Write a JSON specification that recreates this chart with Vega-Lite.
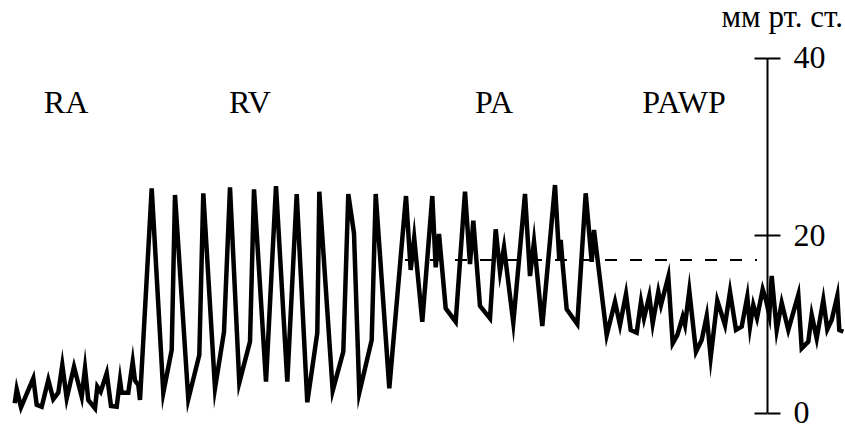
{
  "$schema": "https://vega.github.io/schema/vega-lite/v6.json",
  "width": 845,
  "height": 428,
  "autosize": {"type": "none"},
  "padding": 0,
  "background": "white",
  "config": {"view": {"stroke": null}, "font": "Times New Roman, Times, Liberation Serif, serif"},
  "datasets": {
    "trace": [
      {"t": 14.7, "p": 1.04}, {"t": 16.7, "p": 2.61}, {"t": 21, "p": 0.59}, {"t": 33.3, "p": 3.85},
      {"t": 36.7, "p": 0.85}, {"t": 41.7, "p": 0.65}, {"t": 48.3, "p": 3.66}, {"t": 53.3, "p": 1.49},
      {"t": 58.3, "p": 2.23}, {"t": 62.3, "p": 5.35}, {"t": 66.7, "p": 1.6}, {"t": 74, "p": 5.16},
      {"t": 81.7, "p": 1.78}, {"t": 85, "p": 4.98}, {"t": 88.3, "p": 1.41}, {"t": 95, "p": 0.47},
      {"t": 97.3, "p": 2.91}, {"t": 100.7, "p": 2.34}, {"t": 106.7, "p": 4.42}, {"t": 111, "p": 0.73},
      {"t": 116.7, "p": 0.65}, {"t": 120, "p": 3.66}, {"t": 121.7, "p": 2.23}, {"t": 128.3, "p": 2.23},
      {"t": 132.7, "p": 5.72}, {"t": 135, "p": 3.58}, {"t": 138.3, "p": 3.1}, {"t": 140, "p": 1.41},
      {"t": 151.7, "p": 25.26}, {"t": 163.3, "p": 2.23}, {"t": 171.7, "p": 7.04}, {"t": 175, "p": 24.51},
      {"t": 188.3, "p": 1.49}, {"t": 199.3, "p": 6.48}, {"t": 203.3, "p": 24.7}, {"t": 215, "p": 2.73},
      {"t": 224, "p": 9.1}, {"t": 230, "p": 25.37}, {"t": 239.3, "p": 3.36}, {"t": 250, "p": 7.98},
      {"t": 254, "p": 25.15}, {"t": 266, "p": 3.47}, {"t": 276, "p": 25.52}, {"t": 287.3, "p": 3.47},
      {"t": 296.7, "p": 24.62}, {"t": 307.3, "p": 1.15}, {"t": 317.3, "p": 8.99}, {"t": 319.3, "p": 24.88},
      {"t": 332.7, "p": 2.46}, {"t": 343.3, "p": 6.85}, {"t": 348.3, "p": 24.62}, {"t": 354, "p": 20.19},
      {"t": 359.3, "p": 2.23}, {"t": 371.7, "p": 8.17}, {"t": 375.7, "p": 24.62}, {"t": 389.3, "p": 2.73},
      {"t": 406, "p": 24.39}, {"t": 410.7, "p": 16.06}, {"t": 414.2, "p": 19.66}, {"t": 422.3, "p": 10.23},
      {"t": 432.3, "p": 24.39}, {"t": 435.7, "p": 16.36}, {"t": 439, "p": 20.11}, {"t": 445.7, "p": 11.74},
      {"t": 455.7, "p": 10.23}, {"t": 465, "p": 24.88}, {"t": 470, "p": 16.73}, {"t": 473.3, "p": 21.61},
      {"t": 480, "p": 12.0}, {"t": 490, "p": 10.61}, {"t": 495.7, "p": 20.64}, {"t": 500, "p": 15.86},
      {"t": 504, "p": 18.61}, {"t": 513.3, "p": 10.12}, {"t": 525, "p": 24.62}, {"t": 530, "p": 15.38},
      {"t": 534, "p": 19.25}, {"t": 542.3, "p": 9.75}, {"t": 555, "p": 25.63}, {"t": 559.3, "p": 17.18},
      {"t": 560.7, "p": 19.44}, {"t": 562.7, "p": 16.62}, {"t": 566.7, "p": 11.63}, {"t": 577.3, "p": 9.97},
      {"t": 585.7, "p": 24.7}, {"t": 591.7, "p": 16.99}, {"t": 594, "p": 20.56}, {"t": 606.7, "p": 8.73},
      {"t": 615, "p": 12.48}, {"t": 620, "p": 9.86}, {"t": 626, "p": 13.35}, {"t": 630.7, "p": 9.3},
      {"t": 636.7, "p": 8.99}, {"t": 641, "p": 12.48}, {"t": 644, "p": 10.61}, {"t": 649.3, "p": 13.13},
      {"t": 652.7, "p": 10.05}, {"t": 658.3, "p": 13.61}, {"t": 661, "p": 12.11}, {"t": 668.3, "p": 15.3},
      {"t": 672.7, "p": 7.8}, {"t": 677.3, "p": 8.73}, {"t": 682.7, "p": 10.79}, {"t": 685, "p": 9.86},
      {"t": 689.3, "p": 13.72}, {"t": 696, "p": 6.85}, {"t": 701.7, "p": 8.17}, {"t": 706.7, "p": 10.87},
      {"t": 710.7, "p": 6.22}, {"t": 717.3, "p": 12.6}, {"t": 725, "p": 9.86}, {"t": 730, "p": 13.61},
      {"t": 736, "p": 9.3}, {"t": 741.7, "p": 9.67}, {"t": 747.3, "p": 13.05}, {"t": 750, "p": 9.67},
      {"t": 753.3, "p": 12.11}, {"t": 757, "p": 10.65}, {"t": 762.7, "p": 13.88}, {"t": 766, "p": 12.68},
      {"t": 769.3, "p": 10.99}, {"t": 771.7, "p": 15.38}, {"t": 776.7, "p": 9.3}, {"t": 781.7, "p": 12.37},
      {"t": 788.3, "p": 9.3}, {"t": 798.3, "p": 13.24}, {"t": 801.7, "p": 7.23}, {"t": 808.3, "p": 7.98},
      {"t": 811.7, "p": 10.99}, {"t": 816.7, "p": 8.36}, {"t": 823.3, "p": 12.68}, {"t": 827.3, "p": 9.37},
      {"t": 831.7, "p": 10.42}, {"t": 837.3, "p": 13.13}, {"t": 839.3, "p": 9.3}, {"t": 843.3, "p": 9.1}
    ],
    "wedge": [{"t": 405, "t2": 757, "p": 17.18}],
    "regions": [
      {"t": 66, "p": 33.75, "label": "RA"},
      {"t": 250, "p": 33.75, "label": "RV"},
      {"t": 494, "p": 33.75, "label": "PA"},
      {"t": 684, "p": 33.75, "label": "PAWP"}
    ],
    "unit": [{"t": 843, "p": 43.44, "label": "мм рт. ст."}]
  },
  "resolve": {"axis": {"y": "independent"}},
  "layer": [
    {
      "data": {"name": "wedge"},
      "mark": {"type": "rule", "stroke": "black", "strokeWidth": 2, "strokeDash": [12, 13]},
      "encoding": {
        "x": {"field": "t", "type": "quantitative", "scale": {"domain": [0, 845], "nice": false, "zero": false}, "axis": null},
        "x2": {"field": "t2"},
        "y": {"field": "p", "type": "quantitative", "scale": {"domain": [0, 40], "range": [412.5, 57.5], "nice": false, "zero": false},
          "axis": {"orient": "right", "offset": -91, "values": [0, 20, 40], "tickSize": 13, "tickWidth": 2, "tickColor": "black", "domain": false, "labels": false, "grid": false, "title": null}}
      }
    },
    {
      "data": {"name": "trace"},
      "mark": {"type": "line", "stroke": "black", "strokeWidth": 4.5, "strokeJoin": "miter", "strokeMiterLimit": 10},
      "encoding": {
        "x": {"field": "t", "type": "quantitative", "axis": null},
        "y": {"field": "p", "type": "quantitative",
          "axis": {"orient": "right", "offset": -78, "values": [0, 20, 40], "tickSize": 13, "tickWidth": 2, "tickColor": "black",
            "domain": true, "domainColor": "black", "domainWidth": 2, "grid": false, "title": null,
            "labelFont": "Times New Roman, Times, Liberation Serif, serif", "labelFontSize": 32, "labelColor": "black", "labelPadding": 13, "labelFlush": false, "labelOverlap": false}}
      }
    },
    {
      "data": {"name": "regions"},
      "mark": {"type": "text", "font": "Times New Roman, Times, Liberation Serif, serif", "fontSize": 32, "color": "black", "align": "center", "baseline": "alphabetic"},
      "encoding": {
        "x": {"field": "t", "type": "quantitative", "axis": null},
        "y": {"field": "p", "type": "quantitative", "axis": null},
        "text": {"field": "label"}
      }
    },
    {
      "data": {"name": "unit"},
      "mark": {"type": "text", "font": "Times New Roman, Times, Liberation Serif, serif", "fontSize": 31, "color": "black", "align": "right", "baseline": "alphabetic"},
      "encoding": {
        "x": {"field": "t", "type": "quantitative", "axis": null},
        "y": {"field": "p", "type": "quantitative", "axis": null},
        "text": {"field": "label"}
      }
    }
  ]
}
